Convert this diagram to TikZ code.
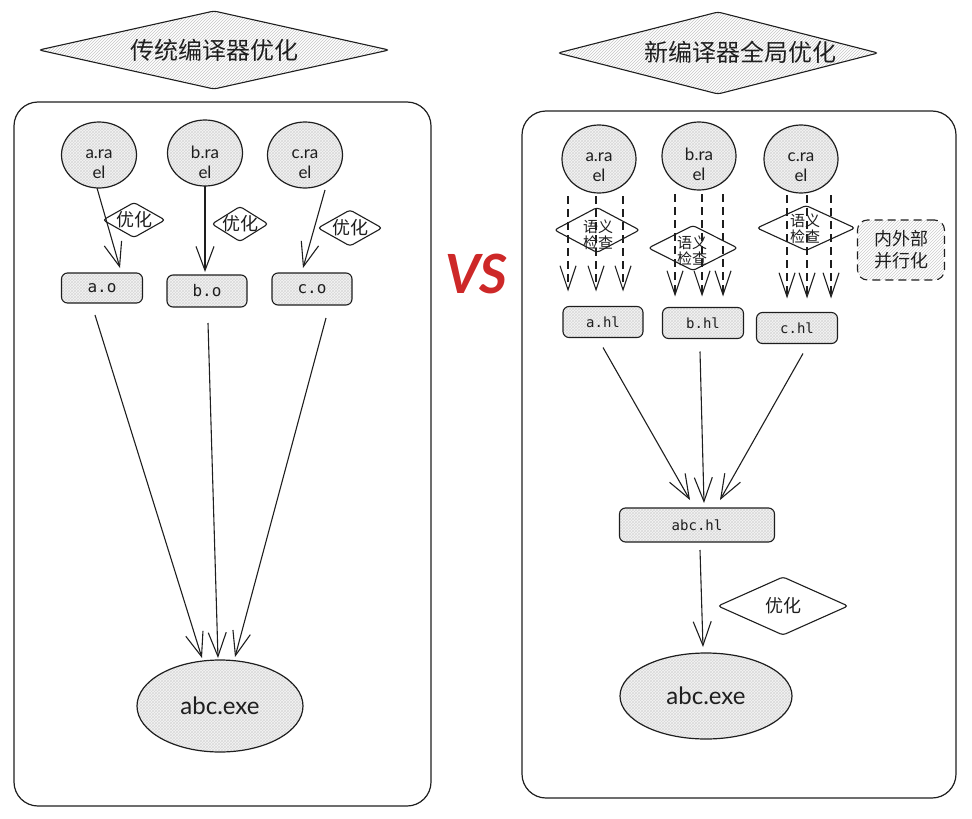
\documentclass[tikz,border=0pt]{standalone}
\usepackage{fontspec}
\setmainfont{Lato}
\setmonofont{DejaVu Sans Mono}
\newfontfamily\cjk{Noto Sans CJK SC}
\usetikzlibrary{shapes.geometric,arrows.meta,patterns,calc}
\definecolor{ink}{RGB}{30,30,30}
\definecolor{vsred}{RGB}{205,40,40}
\begin{document}
\begin{tikzpicture}[x=1pt,y=-1pt,
  every node/.style={inner sep=0pt,outer sep=0pt},
  hdr/.style={diamond,draw=ink,line width=1.1pt,rounded corners=3pt,pattern=north east lines,pattern color=gray!45},
  hdrtxt/.style={font=\cjk\fontsize{24}{26}\selectfont,text=ink},
  panel/.style={rectangle,draw=ink,line width=1.2pt,rounded corners=24pt},
  circ/.style={ellipse,draw=ink,line width=1.2pt,preaction={fill=gray!8},pattern=crosshatch,pattern color=gray!30},
  circtxt/.style={font=\fontsize{17}{20}\selectfont,align=center,text=ink},
  opt/.style={diamond,draw=ink,line width=1.1pt,rounded corners=3pt,fill=white},
  opttxt/.style={font=\cjk\fontsize{18}{20}\selectfont,text=ink},
  semtxt/.style={font=\cjk\fontsize{15}{16}\selectfont,align=center,text=ink},
  box/.style={rectangle,draw=ink,line width=1.1pt,rounded corners=6pt,preaction={fill=gray!8},pattern=crosshatch,pattern color=gray!30},
  boxtxt/.style={font=\ttfamily\fontsize{16}{18}\selectfont,text=ink},
  boxtxts/.style={font=\ttfamily\fontsize{14}{16}\selectfont,text=ink},
  arr/.style={draw=ink,line width=1.1pt,-{Straight Barb[length=24pt,width=18pt,line width=1.1pt]}},
  darr/.style={draw=ink,line width=1.1pt,dash pattern=on 8pt off 5pt,-{Straight Barb[length=24pt,width=16pt,line width=1.1pt]}}
]
\useasboundingbox (0,0) rectangle (972,819);

% ---------------- Left side ----------------
\node[hdr,minimum width=350,minimum height=78] (lh) at (214,50) {};
\node[hdrtxt] (lht) at (214,50) {传统编译器优化};
\node[panel,minimum width=417,minimum height=704] (lp) at (222.5,454) {};

\node[circ,minimum width=75,minimum height=66] (la) at (99,155) {};
\node[circtxt] (lat) at (99,164) {a.ra\\el};
\node[circ,minimum width=75,minimum height=66] (lb) at (205,153) {};
\node[circtxt] (lbt) at (205,162) {b.ra\\el};
\node[circ,minimum width=75,minimum height=66] (lc) at (305,155) {};
\node[circtxt] (lct) at (305,164) {c.ra\\el};

\node[opt,minimum width=62,minimum height=35] (lda) at (134,220) {};
\node[opttxt] at (lda) {优化};
\node[opt,minimum width=56,minimum height=35] (ldb) at (240,224) {};
\node[opttxt] at (ldb) {优化};
\node[opt,minimum width=64,minimum height=36] (ldc) at (350,228) {};
\node[opttxt] at (ldc) {优化};

\node[box,minimum width=81,minimum height=30] (lao) at (102,288) {};
\node[boxtxt] at (lao) {a.o};
\node[box,minimum width=80,minimum height=32] (lbo) at (207,291) {};
\node[boxtxt] at (lbo) {b.o};
\node[box,minimum width=80,minimum height=32] (lco) at (312,289) {};
\node[boxtxt] at (lco) {c.o};

\node[circ,minimum width=166,minimum height=92] (lexe) at (220,706) {};
\node[circtxt,font=\fontsize{24}{26}\selectfont] at (lexe) {abc.exe};

\draw[arr] ($(la.south)+(-2,0)$) -- ($(lao.north)+(18,-5)$);
\draw[arr] ($(lb.south)+(0,0)$) -- ($(lbo.north)+(-2,-3)$);
\draw[arr] ($(lc.south)+(20,2)$) -- ($(lco.north)+(-9,-5)$);
\draw[arr] ($(lao.south)+(-7,12)$) -- ($(lexe.north)+(-18,-2)$);
\draw[arr] ($(lbo.south)+(1,16)$) -- ($(lexe.north)+(-2,-2)$);
\draw[arr] ($(lco.south)+(14,13)$) -- ($(lexe.north)+(15,-3)$);

% ---------------- VS ----------------
\node[font=\fontsize{54}{56}\selectfont\bfseries\itshape,text=vsred] (vs) at (476,274) {VS};

% ---------------- Right side ----------------
\node[hdr,minimum width=320,minimum height=82] (rh) at (718,53) {};
\node[hdrtxt] (rht) at (740,52) {新编译器全局优化};
\node[panel,minimum width=434,minimum height=687] (rp) at (739,454.5) {};

\node[circ,minimum width=74,minimum height=68] (ra) at (599,159) {};
\node[circtxt] at (599,167) {a.ra\\el};
\node[circ,minimum width=74,minimum height=68] (rb) at (699,156) {};
\node[circtxt] at (699,164) {b.ra\\el};
\node[circ,minimum width=74,minimum height=68] (rc) at (801,159) {};
\node[circtxt] at (801,167) {c.ra\\el};

\node[box,minimum width=80,minimum height=31] (rah) at (603,322) {};
\node[boxtxts] at (rah) {a.hl};
\node[box,minimum width=81,minimum height=31] (rbh) at (703,323) {};
\node[boxtxts] at (rbh) {b.hl};
\node[box,minimum width=81,minimum height=31] (rch) at (797,328) {};
\node[boxtxts] at (rch) {c.hl};

\node[opt,minimum width=85,minimum height=45] (rsa) at (597,230) {};
\node[opt,minimum width=89,minimum height=45] (rsb) at (693,248) {};
\node[opt,minimum width=98,minimum height=45] (rsc) at (806,228) {};

% dashed arrows
\draw[darr] ($(ra.south)+(-31,3)$) -- ($(rah.north)+(-35,-15)$);
\draw[darr] ($(ra.south)+(-3,3)$) -- ($(rah.north)+(-7,-15)$);
\draw[darr] ($(ra.south)+(24,3)$) -- ($(rah.north)+(20,-15)$);
\draw[darr] ($(rb.south)+(-24,4)$) -- ($(rbh.north)+(-28,-11)$);
\draw[darr] ($(rb.south)+(3,4)$) -- ($(rbh.north)+(-1,-11)$);
\draw[darr] ($(rb.south)+(24,4)$) -- ($(rbh.north)+(20,-11)$);
\draw[darr] ($(rc.south)+(-14,2)$) -- ($(rch.north)+(-10,-14)$);
\draw[darr] ($(rc.south)+(6,2)$) -- ($(rch.north)+(10,-14)$);
\draw[darr] ($(rc.south)+(30,2)$) -- ($(rch.north)+(34,-14)$);

\node[semtxt] at (598,235) {语义\\检查};
\node[semtxt] at (692,251) {语义\\检查};
\node[semtxt] at (805,229) {语义\\检查};

\node[rectangle,draw=ink,line width=1.1pt,rounded corners=10pt,dash pattern=on 8pt off 5pt,pattern=north east lines,pattern color=gray!40,minimum width=87,minimum height=60] (rpar) at (901,250) {};
\node[font=\cjk\fontsize{18}{22}\selectfont,align=center,text=ink] at (rpar) {内外部\\并行化};

\node[box,minimum width=155,minimum height=34] (rabc) at (697,525) {};
\node[boxtxts] at (rabc) {abc.hl};

\draw[arr] ($(rah.south)+(0,10)$) -- ($(rabc.north)+(-7,-8)$);
\draw[arr] ($(rbh.south)+(-3,13)$) -- ($(rabc.north)+(7,-5)$);
\draw[arr] ($(rch.south)+(6,10)$) -- ($(rabc.north)+(23,-8)$);

\node[opt,minimum width=130,minimum height=58] (ropt) at (783,606) {};
\node[opttxt] at (ropt) {优化};

\node[circ,minimum width=172,minimum height=86] (rexe) at (706,696) {};
\node[circtxt,font=\fontsize{24}{26}\selectfont] at (rexe) {abc.exe};

\draw[arr] ($(rabc.south)+(3,8)$) -- ($(rexe.north)+(-3,-6)$);
\end{tikzpicture}
\end{document}
